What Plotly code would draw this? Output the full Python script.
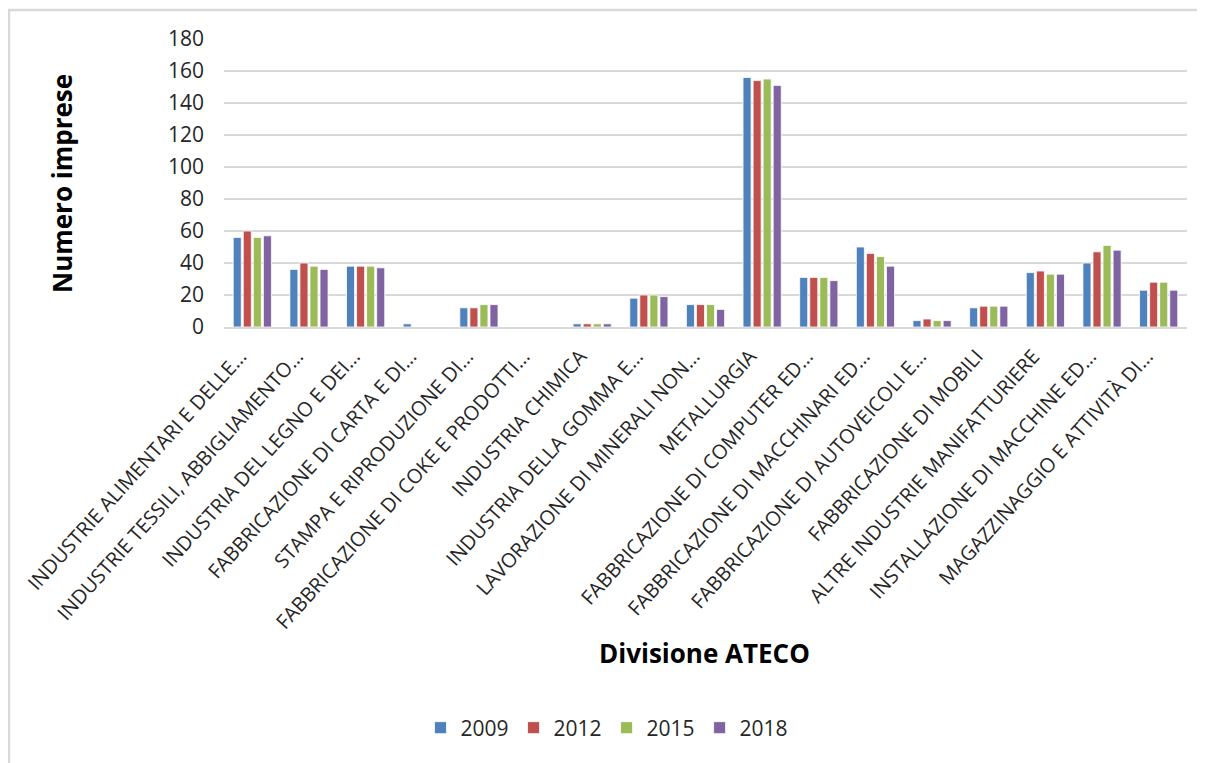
import plotly.graph_objects as go

categories = [
    "INDUSTRIE ALIMENTARI E DELLE…",
    "INDUSTRIE TESSILI, ABBIGLIAMENTO…",
    "INDUSTRIA DEL LEGNO E DEI…",
    "FABBRICAZIONE DI CARTA E DI…",
    "STAMPA E RIPRODUZIONE DI…",
    "FABBRICAZIONE DI COKE E PRODOTTI…",
    "INDUSTRIA CHIMICA",
    "INDUSTRIA DELLA GOMMA E…",
    "LAVORAZIONE DI MINERALI NON…",
    "METALLURGIA",
    "FABBRICAZIONE DI COMPUTER ED…",
    "FABBRICAZIONE DI MACCHINARI ED…",
    "FABBRICAZIONE DI AUTOVEICOLI E…",
    "FABBRICAZIONE DI MOBILI",
    "ALTRE INDUSTRIE MANIFATTURIERE",
    "INSTALLAZIONE DI MACCHINE ED…",
    "MAGAZZINAGGIO E ATTIVITÀ DI…",
]

v2009 = [56, 36, 38, 2, 12, 0, 2, 18, 14, 156, 31, 50, 4, 12, 34, 40, 23]
v2012 = [60, 40, 38, 0, 12, 0, 2, 20, 14, 154, 31, 46, 5, 13, 35, 47, 28]
v2015 = [56, 38, 38, 0, 14, 0, 2, 20, 14, 155, 31, 44, 4, 13, 33, 51, 28]
v2018 = [57, 36, 37, 0, 14, 0, 2, 19, 11, 151, 29, 38, 4, 13, 33, 48, 23]

series_names = ["2009", "2012", "2015", "2018"]
series_values = [v2009, v2012, v2015, v2018]
colors = ["#4F81BD", "#C0504D", "#9BBB59", "#8064A2"]

y_ticks = [0, 20, 40, 60, 80, 100, 120, 140, 160, 180]

# page has an 8px body margin; figure placed at (8, 8)
OFF = 8
W, H = 1205 - OFF, 763 - OFF
PL, PR, PT, PB = 224, 1187, 39, 327   # plot area in page pixels
L, R, T, B = PL - OFF, W - (PR - OFF), PT - OFF, H - (PB - OFF)
pw = W - L - R
ph = H - T - B

def px_x(x):
    return (x - OFF - L) / pw

def px_y(y):
    return (PB - y) / ph

fig = go.Figure()
for name, vals, col in zip(series_names, series_values, colors):
    fig.add_trace(go.Bar(
        x=categories, y=vals, name=name,
        marker=dict(color=col, line=dict(color="white", width=0.8)),
    ))

font_family = "Open Sans, Liberation Sans, sans-serif"

fig.update_layout(
    width=W, height=H,
    margin=dict(l=L, r=R, t=T, b=B, autoexpand=False),
    paper_bgcolor="white", plot_bgcolor="white",
    barmode="group", bargap=0.29, bargroupgap=0.2,
    font=dict(family=font_family, color="#262626"),
    showlegend=True,
    legend=dict(
        orientation="h", x=px_x(607), xanchor="center",
        y=px_y(728), yanchor="middle",
        font=dict(size=21, color="#262626"),
        itemwidth=30, tracegroupgap=0,
    ),
    xaxis=dict(
        tickangle=-48, tickfont=dict(size=20, color="#262626"),
        showline=True, linecolor="#d9d9d9", linewidth=1.5,
        showgrid=False, ticks="", automargin=False,
        ticklabelshift=-12, ticklabelstandoff=8,
    ),
    yaxis=dict(
        range=[0, 180], tickvals=y_ticks,
        tickfont=dict(size=21, color="#262626"),
        showgrid=True, gridcolor="#d9d9d9", gridwidth=1.5,
        zeroline=False, showline=False, ticks="",
        ticklabelstandoff=19, automargin=False,
    ),
    annotations=[
        dict(text="<b>Numero imprese</b>", x=px_x(62), y=px_y(184),
             xref="paper", yref="paper", textangle=-90,
             showarrow=False, xanchor="center", yanchor="middle",
             font=dict(size=26, color="#000000")),
        dict(text="<b>Divisione ATECO</b>", x=px_x(704), y=px_y(653),
             xref="paper", yref="paper",
             showarrow=False, xanchor="center", yanchor="middle",
             font=dict(size=26, color="#000000")),
    ],
    shapes=[
        dict(type="line", xref="paper", yref="paper",
             x0=px_x(9), x1=px_x(9), y0=px_y(10), y1=px_y(775),
             line=dict(color="#d9d9d9", width=2.5)),
        dict(type="line", xref="paper", yref="paper",
             x0=px_x(8), x1=px_x(1215), y0=px_y(10), y1=px_y(10),
             line=dict(color="#d9d9d9", width=2.5)),
    ],
)

fig.write_html("out.html")
